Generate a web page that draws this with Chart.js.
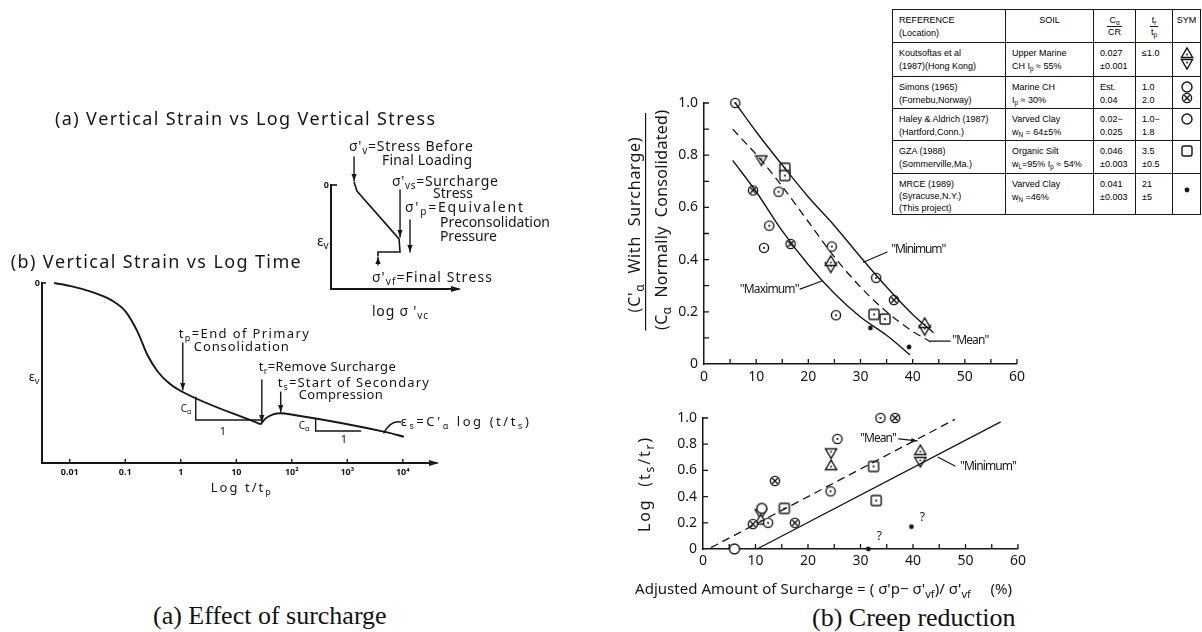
<!DOCTYPE html>
<html>
<head>
<meta charset="utf-8">
<title>Surcharge effect and creep reduction</title>
<script src="https://cdn.jsdelivr.net/npm/chart.js@4.4.1/dist/chart.umd.min.js"></script>
<style>
  body { margin: 0; background: #fff; }
  #page { position: relative; width: 1202px; height: 632px; overflow: hidden; background: #fff; }
  #page canvas { position: absolute; }
  .caption { position: absolute; font-family: "Liberation Serif", "Times New Roman", serif; font-size: 26px; line-height: 30px; color: #111; white-space: nowrap; }
  #refs { position: absolute; left: 892px; top: 9px; width: 308px; border-collapse: collapse; table-layout: fixed; background: #fff;
          font-family: "Liberation Sans", Arial, sans-serif; font-size: 9px; line-height: 13px; color: #000; }
  #refs td { border: 1.5px solid #1a1a1a; vertical-align: top; padding: 4px 2px 0 6px; overflow: hidden; white-space: nowrap; }
  #refs td.mid { text-align: center; padding-left: 2px; }
  #refs td.sym { text-align: center; padding: 3px 0 0 0; }
  #refs td.sym canvas { position: static; display: block; margin: 0 auto -3px; }
  #refs sub { font-size: 70%; line-height: 0; vertical-align: -2px; }
  .frac { display: inline-flex; flex-direction: column; align-items: center; line-height: 11px; }
  .frac span:first-child { border-bottom: 1px solid #1a1a1a; padding: 0 2px; }
</style>
</head>
<body>
<div id="page">
  <canvas id="stressChart" width="560" height="230" style="left:0;top:100px"></canvas>
  <canvas id="timeChart" width="545" height="250" style="left:0;top:250px"></canvas>
  <canvas id="ratioChart" width="430" height="305" style="left:600px;top:85px"></canvas>
  <canvas id="logChart" width="430" height="200" style="left:600px;top:400px"></canvas>

  <table id="refs">
    <colgroup><col style="width:113px"><col style="width:88px"><col style="width:42px"><col style="width:37px"><col style="width:28px"></colgroup>
    <tr style="height:33px"><td>REFERENCE<br>(Location)</td><td class="mid">SOIL</td>
      <td class="mid"><span class="frac"><span>C<sub>α</sub></span><span>CR</span></span></td>
      <td class="mid"><span class="frac"><span>t<sub>r</sub></span><span>t<sub>p</sub></span></span></td><td class="mid">SYM</td></tr>
    <tr style="height:34px"><td>Koutsoftas et al<br>(1987)(Hong Kong)</td><td>Upper Marine<br>CH I<sub>p</sub> ≈ 55%</td>
      <td>0.027<br>±0.001</td><td>≤1.0</td><td class="sym" data-sym="triUp triDown"></td></tr>
    <tr style="height:32px"><td>Simons (1965)<br>(Fornebu,Norway)</td><td>Marine CH<br>I<sub>p</sub> ≈ 30%</td>
      <td>Est.<br>0.04</td><td>1.0<br>2.0</td><td class="sym" data-sym="circOpen circX"></td></tr>
    <tr style="height:32px"><td>Haley &amp; Aldrich (1987)<br>(Hartford,Conn.)</td><td>Varved Clay<br>w<sub>N</sub> = 64±5%</td>
      <td>0.02−<br>0.025</td><td>1.0−<br>1.8</td><td class="sym" data-sym="circOpen"></td></tr>
    <tr style="height:33px"><td>GZA (1988)<br>(Sommerville,Ma.)</td><td>Organic Silt<br>w<sub>L</sub>=95% I<sub>p</sub> ≈ 54%</td>
      <td>0.046<br>±0.003</td><td>3.5<br>±0.5</td><td class="sym" data-sym="squareOpen"></td></tr>
    <tr style="height:41px"><td style="line-height:12px">MRCE (1989)<br>(Syracuse,N.Y.)<br>(This project)</td><td>Varved Clay<br>w<sub>N</sub> =46%</td>
      <td>0.041<br>±0.003</td><td>21<br>±5</td><td class="sym" data-sym="dot" style="padding-top:9px"></td></tr>
  </table>

  <div class="caption" style="left:153px;top:601px">(a) Effect of surcharge</div>
  <div class="caption" style="left:812px;top:603px">(b) Creep reduction</div>
</div>

<script>
const INK = '#161616';
const FONT = '"Noto Sans", "DejaVu Sans", sans-serif';

// (a) strain against log vertical stress: load, surcharge, unload (schematic units)
const stressLogSigma = [1.83, 2.06, 5.40, 5.48, 3.73, 3.73];
const stressStrain = [-0.23, 0.46, 4.15, 5.15, 5.15, 5.46];

// (b) strain against log t/tp
const timeLog = [-2.28, -1.98, -1.62, -1.26, -0.99, -0.78, -0.60, -0.42, -0.21, 0, 1.44, 1.53, 1.68, 1.80, 2.04, 3.72, 4.02];
const timeStrain = [0, 0.017, 0.048, 0.094, 0.16, 0.27, 0.40, 0.49, 0.557, 0.60, 0.785, 0.752, 0.728, 0.724, 0.733, 0.83, 0.854];
const timeTicks = [-2, -1, 0, 1, 2, 3, 4];
const timeTickLabels = ['0.01', '0.1', '1', '10', '10²', '10³', '10⁴'];

// C'α / Cα against adjusted surcharge (%)
const ratioMinX = [6, 10, 15.5, 20, 25, 30, 35, 40, 44];
const ratioMinY = [1.0, 0.89, 0.75, 0.64, 0.53, 0.41, 0.295, 0.19, 0.12];
const ratioMeanX = [5.5, 11, 15, 20, 25, 30, 35, 40, 43.5];
const ratioMeanY = [0.90, 0.78, 0.68, 0.545, 0.41, 0.295, 0.20, 0.125, 0.085];
const ratioMaxX = [5.5, 10, 15, 20, 25, 30, 35, 39.5];
const ratioMaxY = [0.78, 0.66, 0.51, 0.38, 0.27, 0.18, 0.11, 0.035];
const ratioCircleX = [6, 14.3, 12.5, 11.5, 24.5, 33, 25.3];
const ratioCircleY = [1.0, 0.66, 0.53, 0.445, 0.45, 0.33, 0.187];
const ratioCrossX = [9.4, 16.6, 36.4];
const ratioCrossY = [0.665, 0.46, 0.245];
const ratioTriUpX = [10.5, 24.3, 42.3];
const ratioTriUpY = [1.03, 0.395, 0.157];
const ratioTriDownX = [11, 24.3, 42.3];
const ratioTriDownY = [0.78, 0.37, 0.13];
const ratioSquareX = [15.5, 15.5, 32.6, 34.7];
const ratioSquareY = [0.75, 0.722, 0.19, 0.172];
const ratioDotX = [31.9, 39.3];
const ratioDotY = [0.138, 0.065];

// log(ts/tr) against adjusted surcharge (%)
const logMeanX = [1.5, 48];
const logMeanY = [0.01, 0.99];
const logMinX = [10.3, 56.7];
const logMinY = [0, 0.97];
const logOpenX = [6, 11.2];
const logOpenY = [0, 0.31];
const logCircleX = [12.4, 24.3, 25.6, 33.8];
const logCircleY = [0.2, 0.44, 0.84, 1.0];
const logCrossX = [9.5, 13.7, 17.5, 36.6];
const logCrossY = [0.19, 0.52, 0.2, 1.0];
const logTriUpX = [11, 24.4, 41.4];
const logTriUpY = [0.225, 0.64, 0.755];
const logTriDownX = [11, 24.4, 41.4];
const logTriDownY = [0.265, 0.73, 0.665];
const logSquareX = [15.5, 32.5, 33];
const logSquareY = [0.31, 0.63, 0.37];
const logDotX = [39.7, 31.5];
const logDotY = [0.17, 0];

const surchargeTicks = [0, 10, 20, 30, 40, 50, 60];
const surchargeMinor = [5, 10, 15, 20, 25, 30, 35, 40, 45, 50, 55, 60];
const fractionTicks = [0, 0.2, 0.4, 0.6, 0.8, 1.0];
const fractionLabels = ['0', '0.2', '0.4', '0.6', '0.8', '1.0'];
const fractionMinor = [0.1, 0.2, 0.3, 0.4, 0.5, 0.6, 0.7, 0.8, 0.9, 1.0];

// --- plot symbols as small canvases, used as point styles ---
function symbol(draw) {
  const c = document.createElement('canvas');
  c.width = c.height = 14;
  const g = c.getContext('2d');
  g.strokeStyle = INK; g.fillStyle = '#fff'; g.lineWidth = 1.4;
  draw(g);
  return c;
}
function ring(g, r) { g.beginPath(); g.arc(7, 7, r, 0, Math.PI * 2); g.fill(); g.stroke(); }
function pip(g, x = 7, y = 7, r = 1.1) { g.save(); g.fillStyle = INK; g.beginPath(); g.arc(x, y, r, 0, Math.PI * 2); g.fill(); g.restore(); }
function poly(g, p) { g.beginPath(); g.moveTo(p[0][0], p[0][1]); p.slice(1).forEach(q => g.lineTo(q[0], q[1])); g.closePath(); g.fill(); g.stroke(); }

const SYM = {
  circDot: symbol(g => { ring(g, 4.6); pip(g); }),
  circOpen: symbol(g => { ring(g, 5); }),
  circX: symbol(g => { ring(g, 4.6); g.beginPath(); g.moveTo(4.3, 4.3); g.lineTo(9.7, 9.7); g.moveTo(9.7, 4.3); g.lineTo(4.3, 9.7); g.stroke(); }),
  triUp: symbol(g => { poly(g, [[7, 1.8], [12.6, 11.5], [1.4, 11.5]]); pip(g, 7, 8.5, 0.9); }),
  triDown: symbol(g => { poly(g, [[1.4, 2.5], [12.6, 2.5], [7, 12.2]]); pip(g, 7, 5.5, 0.9); }),
  square: symbol(g => { g.beginPath(); g.roundRect(2, 2, 10, 10, 1.5); g.fill(); g.stroke(); pip(g); }),
  squareOpen: symbol(g => { g.beginPath(); g.roundRect(2, 2, 10, 10, 2); g.fill(); g.stroke(); }),
  dot: symbol(g => { pip(g, 7, 7, 2.4); })
};

// --- text with _sub / ^sup parts, stretched by letter gap to a given width ---
function parseRich(str) {
  const segs = [];
  let buf = '', i = 0;
  while (i < str.length) {
    const c = str[i];
    if (c === '_' || c === '^') {
      if (buf) segs.push({ t: buf, m: 0 });
      buf = '';
      let t;
      if (str[i + 1] === '{') { const j = str.indexOf('}', i); t = str.slice(i + 2, j); i = j + 1; }
      else { t = str[i + 1]; i += 2; }
      segs.push({ t, m: c === '_' ? -1 : 1 });
    } else { buf += c; i++; }
  }
  if (buf) segs.push({ t: buf, m: 0 });
  return segs;
}

function drawRich(ctx, str, x, y, size, o = {}) {
  const segs = parseRich(str);
  const font = m => `${o.weight || 'normal'} ${m ? Math.round(size * 0.72) : size}px ${FONT}`;
  let natural = 0, n = 0;
  segs.forEach(s => {
    ctx.font = font(s.m);
    s.ws = [...s.t].map(ch => ctx.measureText(ch).width);
    s.ws.forEach(w => { natural += w; n++; });
  });
  const gap = o.w && n > 1 ? (o.w - natural) / (n - 1) : 0;
  const total = natural + gap * (n - 1);
  ctx.save();
  ctx.translate(x, y);
  if (o.rot) ctx.rotate(o.rot * Math.PI / 180);
  ctx.textBaseline = 'middle';
  ctx.textAlign = 'left';
  let cx = o.align === 'center' ? -total / 2 : o.align === 'right' ? -total : 0;
  segs.forEach(s => {
    ctx.font = font(s.m);
    const dy = s.m < 0 ? size * 0.32 : s.m > 0 ? -size * 0.38 : 0;
    [...s.t].forEach((ch, k) => { ctx.fillText(ch, cx, dy); cx += s.ws[k] + gap; });
  });
  ctx.restore();
}

function arrowHead(ctx, x0, y0, x1, y1, len = 7, half = 2.6) {
  const a = Math.atan2(y1 - y0, x1 - x0);
  const bx = x1 - len * Math.cos(a), by = y1 - len * Math.sin(a);
  ctx.beginPath();
  ctx.moveTo(x1, y1);
  ctx.lineTo(bx + half * Math.sin(a), by - half * Math.cos(a));
  ctx.lineTo(bx - half * Math.sin(a), by + half * Math.cos(a));
  ctx.closePath();
  ctx.fill();
}

// labels, arrows and leaders, all placed in data units
function notesPlugin(items, lw = 1.3) {
  return {
    id: 'notes',
    afterDraw(chart) {
      const { ctx, chartArea: a, scales: { x, y } } = chart;
      const P = q => [x.getPixelForValue(q[0]), y.getPixelForValue(q[1])];
      ctx.save();
      ctx.strokeStyle = INK; ctx.fillStyle = INK; ctx.lineWidth = lw; ctx.lineCap = 'round';
      items.forEach(it => {
        if (it.t === 'text') {
          drawRich(ctx, it.s, x.getPixelForValue(it.x), y.getPixelForValue(it.y), it.size, it);
        } else if (it.t === 'path' || it.t === 'curve' || it.t === 'arrowTo') {
          const p = it.pts.map(P);
          ctx.setLineDash(it.dash || []);
          ctx.beginPath();
          ctx.moveTo(p[0][0], p[0][1]);
          if (it.t === 'curve') ctx.quadraticCurveTo(p[1][0], p[1][1], p[2][0], p[2][1]);
          else p.slice(1).forEach(q => ctx.lineTo(q[0], q[1]));
          ctx.stroke();
          ctx.setLineDash([]);
          if (it.t === 'arrowTo') { const k = p.length - 1; arrowHead(ctx, p[k - 1][0], p[k - 1][1], p[k][0], p[k][1], 6, 2.2); }
        } else if (it.t === 'arrow') {
          const [x0, y0] = P([it.x, it.y0]), [x1, y1] = P([it.x, it.y1]);
          ctx.beginPath(); ctx.moveTo(x0, y0); ctx.lineTo(x1, y1); ctx.stroke();
          arrowHead(ctx, x0, y0, x1, y1);
        } else if (it.t === 'axisArrow') {
          ctx.beginPath(); ctx.moveTo(a.right - 4, a.bottom); ctx.lineTo(a.right + 2, a.bottom); ctx.stroke();
          arrowHead(ctx, a.right - 6, a.bottom, a.right + 4, a.bottom, 10, 3);
        }
      });
      ctx.restore();
    }
  };
}

// tick marks pointing into the plot
function inTicksPlugin(xs, ys, len = 5, lw = 1.2) {
  return {
    id: 'inTicks',
    afterDraw(chart) {
      const { ctx, chartArea: a, scales: { x, y } } = chart;
      ctx.save();
      ctx.strokeStyle = INK; ctx.lineWidth = lw;
      ctx.beginPath();
      xs.forEach(v => { const p = x.getPixelForValue(v); ctx.moveTo(p, a.bottom); ctx.lineTo(p, a.bottom - len); });
      ys.forEach(v => { const p = y.getPixelForValue(v); ctx.moveTo(a.left, p); ctx.lineTo(a.left + len, p); });
      ctx.stroke();
      ctx.restore();
    }
  };
}

const pts = (xs, ys) => xs.map((x, i) => ({ x, y: ys[i] }));

function lineSet(xs, ys, o = {}) {
  return {
    data: pts(xs, ys), showLine: true, pointRadius: 0, borderColor: INK,
    borderWidth: o.width || 1.4, borderDash: o.dash || [], clip: false,
    cubicInterpolationMode: o.smooth ? 'monotone' : 'default', tension: 0
  };
}
function markSet(xs, ys, sym) {
  return { data: pts(xs, ys), showLine: false, pointStyle: SYM[sym], pointRadius: 6, clip: false };
}

function axis(o) {
  return {
    type: 'linear', min: o.min, max: o.max, reverse: !!o.reverse,
    grid: { display: false, drawTicks: false },
    border: { display: true, color: INK, width: o.border || 1.5 },
    afterBuildTicks: s => { s.ticks = (o.ticks || []).map(value => ({ value })); },
    ticks: {
      display: !!o.labels, padding: o.pad || 4, color: INK, autoSkip: false, maxRotation: 0,
      font: { family: FONT, size: o.size || 13, weight: o.weight || 'normal' },
      callback: (v, i) => (o.labels ? o.labels[i] : '')
    }
  };
}

// frame: canvas-relative plot area (left axis width, top pad, right pad, bottom axis height)
function plot(id, frame, x, y, datasets, plugins) {
  x.afterFit = s => { s.height = frame.bottom; };
  y.afterFit = s => { s.width = frame.left; };
  return new Chart(document.getElementById(id), {
    type: 'scatter',
    data: { datasets },
    options: {
      responsive: false, animation: false, events: [], devicePixelRatio: 1,
      layout: { padding: { top: frame.top, right: frame.right, left: 0, bottom: 0 } },
      plugins: { legend: { display: false }, tooltip: { enabled: false } },
      scales: { x, y }
    },
    plugins
  });
}

// ---------- (a) vertical strain vs log vertical stress ----------
plot('stressChart', { left: 331, top: 85, right: 103, bottom: 41 },
  axis({ min: 0, max: 10, border: 2 }),
  axis({ min: 0, max: 8, reverse: true, border: 2, ticks: [0], labels: ['0'], size: 9, weight: 'bold', pad: 2 }),
  [lineSet(stressLogSigma, stressStrain, { width: 1.6 })],
  [inTicksPlugin([], [0], 6, 1.6), notesPlugin([
    { t: 'text', x: -21.9, y: -5.0, s: '(a) Vertical Strain vs Log Vertical Stress', size: 18, w: 380 },
    { t: 'text', x: 1.43, y: -2.92, s: "σ'_v=Stress Before", size: 14, w: 124 },
    { t: 'text', x: 4.05, y: -1.85, s: 'Final Loading', size: 14, w: 90 },
    { t: 'text', x: 4.84, y: -0.23, s: "σ'_{vs}=Surcharge", size: 14, w: 106 },
    { t: 'text', x: 8.10, y: 0.69, s: 'Stress', size: 14, w: 40 },
    { t: 'text', x: 5.87, y: 1.77, s: "σ'_p=Equivalent", size: 14, w: 118 },
    { t: 'text', x: 8.65, y: 2.92, s: 'Preconsolidation', size: 14, w: 110 },
    { t: 'text', x: 8.65, y: 4.0, s: 'Pressure', size: 14, w: 57 },
    { t: 'text', x: 3.25, y: 7.15, s: "σ'_{vf}=Final Stress", size: 14, w: 120 },
    { t: 'text', x: 3.25, y: 9.77, s: "log σ '_{vc}", size: 14, w: 56 },
    { t: 'text', x: -1.11, y: 4.38, s: 'ε_v', size: 14 },
    { t: 'arrow', x: 1.83, y0: -2.15, y1: -0.3 },
    { t: 'arrow', x: 5.48, y0: 0.38, y1: 4.0 },
    { t: 'arrow', x: 6.27, y0: 2.69, y1: 5.15 },
    { t: 'arrow', x: 3.73, y0: 6.15, y1: 5.54 },
    { t: 'axisArrow' }
  ], 1.4)]);

// ---------- (b) vertical strain vs log time ----------
const trIndex = timeLog.indexOf(1.44);
plot('timeChart', { left: 42, top: 33, right: 110, bottom: 37 },
  axis({ min: -2.5, max: 4.58, border: 2, ticks: timeTicks, labels: timeTickLabels, size: 9, weight: 'bold', pad: 4 }),
  axis({ min: 0, max: 1, reverse: true, border: 2, ticks: [0], labels: ['0'], size: 9, weight: 'bold', pad: 2 }),
  [
    lineSet(timeLog.slice(0, trIndex + 1), timeStrain.slice(0, trIndex + 1), { width: 1.9, smooth: true }),
    lineSet(timeLog.slice(trIndex), timeStrain.slice(trIndex), { width: 1.9, smooth: true })
  ],
  [inTicksPlugin(timeTicks, [0], 4, 1.4), notesPlugin([
    { t: 'text', x: -3.063, y: -0.111, s: '(b) Vertical Strain vs Log Time', size: 18, w: 290 },
    { t: 'text', x: -0.036, y: 0.283, s: 't_p=End of Primary', size: 13, w: 130 },
    { t: 'text', x: 0.234, y: 0.356, s: 'Consolidation', size: 13, w: 95 },
    { t: 'text', x: 1.405, y: 0.467, s: 't_r=Remove Surcharge', size: 13, w: 137 },
    { t: 'text', x: 1.748, y: 0.556, s: 't_s=Start of Secondary', size: 13, w: 151 },
    { t: 'text', x: 2.126, y: 0.622, s: 'Compression', size: 13, w: 84 },
    { t: 'text', x: 3.964, y: 0.772, s: "ε_s=C'_α log (t/t_s)", size: 13, w: 128 },
    { t: 'text', x: 0, y: 0.70, s: 'C_α', size: 10 },
    { t: 'text', x: 0.757, y: 0.828, s: '1', size: 11, align: 'center' },
    { t: 'text', x: 2.126, y: 0.794, s: 'C_α', size: 10 },
    { t: 'text', x: 2.937, y: 0.872, s: '1', size: 11, align: 'center' },
    { t: 'text', x: -2.739, y: 0.522, s: 'ε_v', size: 13 },
    { t: 'text', x: 1.081, y: 1.139, s: 'Log t/t_p', size: 13, align: 'center', w: 60 },
    { t: 'arrow', x: 0.036, y0: 0.333, y1: 0.594 },
    { t: 'arrow', x: 1.46, y0: 0.539, y1: 0.772 },
    { t: 'arrow', x: 1.80, y0: 0.606, y1: 0.717 },
    { t: 'path', pts: [[0.27, 0.635], [0.27, 0.761], [1.44, 0.761]] },
    { t: 'path', pts: [[2.43, 0.757], [2.43, 0.822], [3.24, 0.822]] },
    { t: 'curve', pts: [[3.964, 0.772], [3.78, 0.761], [3.66, 0.833]] },
    { t: 'axisArrow' }
  ], 1.4)]);

// ---------- C'α / Cα vs adjusted surcharge ----------
plot('ratioChart', { left: 104, top: 18, right: 10, bottom: 26 },
  axis({ min: 0, max: 60, ticks: surchargeTicks, labels: surchargeTicks.map(String), size: 14, pad: 5 }),
  axis({ min: 0, max: 1, ticks: fractionTicks, labels: fractionLabels, size: 14, pad: 6 }),
  [
    lineSet(ratioMinX, ratioMinY, { smooth: true }),
    lineSet(ratioMeanX, ratioMeanY, { smooth: true, dash: [8, 5], width: 1.3 }),
    lineSet(ratioMaxX, ratioMaxY, { smooth: true }),
    markSet(ratioCircleX, ratioCircleY, 'circDot'),
    markSet(ratioCrossX, ratioCrossY, 'circX'),
    markSet(ratioTriUpX, ratioTriUpY, 'triUp'),
    markSet(ratioTriDownX, ratioTriDownY, 'triDown'),
    markSet(ratioSquareX, ratioSquareY, 'square'),
    markSet(ratioDotX, ratioDotY, 'dot')
  ],
  [inTicksPlugin(surchargeMinor, fractionMinor, 5, 1.3), notesPlugin([
    { t: 'text', x: -13.09, y: 0.533, s: "(C'_α  With  Surcharge)", size: 16, w: 175, align: 'center', rot: -90 },
    { t: 'path', pts: [[-11.2, 0.96], [-11.2, 0.13]] },
    { t: 'text', x: -7.97, y: 0.552, s: '(C_α  Normally  Consolidated)', size: 16, w: 220, align: 'center', rot: -90 },
    { t: 'text', x: 35.9, y: 0.437, s: '"Minimum"', size: 12, w: 55 },
    { t: 'path', pts: [[35.1, 0.429], [30.55, 0.39]] },
    { t: 'text', x: 6.83, y: 0.284, s: '"Maximum"', size: 12, w: 60 },
    { t: 'path', pts: [[18.4, 0.287], [22.6, 0.318]] },
    { t: 'text', x: 47.6, y: 0.088, s: '"Mean"', size: 12, w: 37 },
    { t: 'path', pts: [[47.2, 0.088], [43.5, 0.088]] }
  ], 1.2)]);

// ---------- log(ts/tr) vs adjusted surcharge ----------
plot('logChart', { left: 103, top: 18, right: 12, bottom: 51 },
  axis({ min: 0, max: 60, ticks: surchargeTicks, labels: surchargeTicks.map(String), size: 14, pad: 4 }),
  axis({ min: 0, max: 1, ticks: fractionTicks, labels: fractionLabels, size: 14, pad: 6 }),
  [
    lineSet(logMeanX, logMeanY, { dash: [8, 5], width: 1.3 }),
    lineSet(logMinX, logMinY),
    markSet(logOpenX, logOpenY, 'circOpen'),
    markSet(logCircleX, logCircleY, 'circDot'),
    markSet(logCrossX, logCrossY, 'circX'),
    markSet(logTriUpX, logTriUpY, 'triUp'),
    markSet(logTriDownX, logTriDownY, 'triDown'),
    markSet(logSquareX, logSquareY, 'square'),
    markSet(logDotX, logDotY, 'dot')
  ],
  [inTicksPlugin(surchargeMinor, fractionTicks.slice(1), 5, 1.3), notesPlugin([
    { t: 'text', x: -11.05, y: 0.489, s: 'Log  (t_s/t_r)', size: 16, w: 94, align: 'center', rot: -90 },
    { t: 'text', x: -12.95, y: -0.313, s: "Adjusted Amount of Surcharge = ( σ'p− σ'_{vf})/ σ'_{vf}     (%)", size: 15, w: 377 },
    { t: 'text', x: 29.9, y: 0.84, s: '"Mean"', size: 12, w: 37 },
    { t: 'arrowTo', pts: [[37.3, 0.84], [40.8, 0.826]] },
    { t: 'text', x: 48.95, y: 0.626, s: '"Minimum"', size: 12, w: 57 },
    { t: 'path', pts: [[48.0, 0.634], [44.8, 0.70]] },
    { t: 'text', x: 41.3, y: 0.237, s: '?', size: 12 },
    { t: 'text', x: 33.1, y: 0.092, s: '?', size: 12 }
  ], 1.2)]);

// symbols in the reference table
document.querySelectorAll('#refs td.sym').forEach(td => {
  td.dataset.sym.split(' ').forEach(name => {
    const c = document.createElement('canvas');
    c.width = c.height = 14;
    c.getContext('2d').drawImage(SYM[name], 0, 0);
    td.appendChild(c);
  });
});
</script>
</body>
</html>
